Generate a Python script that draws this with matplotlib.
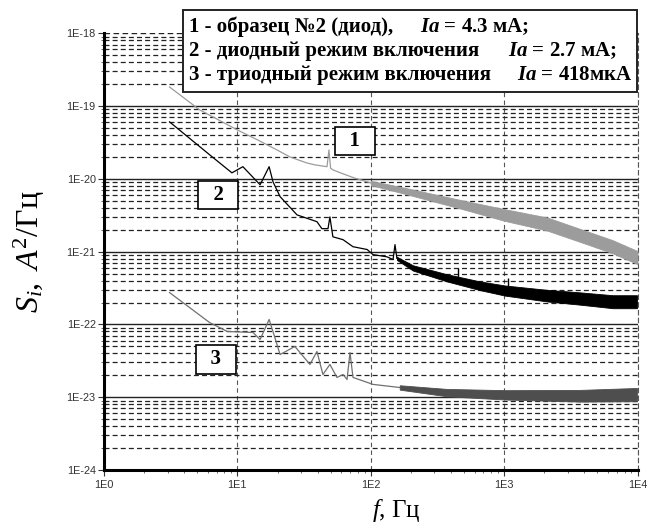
import matplotlib
matplotlib.use("Agg")
import matplotlib.pyplot as plt
from matplotlib.patches import Rectangle
from matplotlib.ticker import LogLocator, FuncFormatter, NullFormatter
import numpy as np

# ---------------- data ----------------
# curve 1: образец №2 (диод)
f1_line = [3.1, 5.2, 10, 14.3, 19.8, 24.8, 33, 38, 47, 48.6, 50, 52, 60, 74, 100]
s1_line = [1.83e-19, 8.9e-20, 4.7e-20, 3.4e-20, 2.5e-20, 2.0e-20, 1.66e-20, 1.56e-20,
           1.47e-20, 2.5e-20, 1.4e-20, 1.33e-20, 1.2e-20, 1.04e-20, 8.8e-21]
f1_band = [100, 165, 490, 1000, 2100, 4200, 6500, 10000]
s1_hi = [9.4e-21, 7.8e-21, 5.05e-21, 3.85e-21, 2.95e-21, 1.9e-21, 1.44e-21, 1.02e-21]
s1_lo = [8.2e-21, 6.5e-21, 3.83e-21, 2.66e-21, 1.95e-21, 1.26e-21, 0.95e-21, 6.75e-22]

# curve 2: диодный режим включения
f2_line = [3.1, 6.2, 9.1, 11.0, 14.8, 17.3, 18.5, 20.9, 28, 39.5, 43, 47.8, 49.4, 52,
           62, 73.5, 94, 104, 132, 147, 152, 157]
s2_line = [6.07e-20, 2.14e-20, 1.21e-20, 1.47e-20, 8.3e-21, 1.47e-20, 9.1e-21, 5.7e-21,
           3.2e-21, 2.58e-21, 2.07e-21, 2.07e-21, 3.0e-21, 1.6e-21, 1.46e-21, 1.17e-21,
           1.07e-21, 9.1e-22, 8.5e-22, 7.8e-22, 1.25e-21, 8.1e-22]
f2_band = [157, 207, 372, 659, 1013, 2094, 3700, 6540, 9900]
s2_hi = [8.5e-22, 6.5e-22, 4.9e-22, 3.9e-22, 3.43e-22, 2.99e-22, 2.76e-22, 2.52e-22, 2.52e-22]
s2_lo = [7.7e-22, 5.5e-22, 3.9e-22, 2.96e-22, 2.49e-22, 2.07e-22, 1.87e-22, 1.67e-22, 1.67e-22]
f2_spike = [451, 1070]
s2_spike_base = [4.2e-22, 2.9e-22]
s2_spike_top = [6.0e-22, 4.4e-22]

# curve 3: триодный режим включения
f3_line = [3.1, 6.2, 8.4, 13.1, 14.8, 17.3, 19.1, 20.9, 27, 35, 39.5, 43.8, 49.4, 55.8,
           62, 66.4, 69.9, 73.6, 104, 165]
s3_line = [2.74e-22, 1.06e-22, 8.0e-23, 7.75e-23, 6.2e-23, 1.17e-22, 6.6e-23, 3.86e-23,
           4.98e-23, 2.82e-23, 4.25e-23, 2.05e-23, 2.82e-23, 1.87e-23, 2.05e-23, 1.75e-23,
           4.1e-23, 1.87e-23, 1.5e-23, 1.36e-23]
f3_band = [165, 372, 1013, 3700, 9900]
s3_hi = [1.46e-23, 1.30e-23, 1.25e-23, 1.26e-23, 1.34e-23]
s3_lo = [1.27e-23, 1.03e-23, 9.3e-24, 8.7e-24, 8.8e-24]

legend_prefix = ["1 - образец №2 (диод),",
                 "2 - диодный режим включения",
                 "3 - триодный режим включения"]
legend_suffix = ["= 4.3 мА;", "= 2.7 мА;", "= 418мкА"]
curve_labels = ["1", "2", "3"]
curve_label_f = [76, 7.2, 6.9]
curve_label_s = [3.33e-20, 6.05e-21, 3.3e-23]

x_ticks = [1, 10, 100, 1000, 10000]
y_ticks = [1e-24, 1e-23, 1e-22, 1e-21, 1e-20, 1e-19, 1e-18]

# ---------------- style ----------------
plt.rcParams['mathtext.fontset'] = 'custom'
plt.rcParams['mathtext.rm'] = 'Liberation Serif'
plt.rcParams['mathtext.it'] = 'Liberation Serif:italic'
plt.rcParams['mathtext.bf'] = 'Liberation Serif:bold'
plt.rcParams['mathtext.bfit'] = 'Liberation Serif:italic:bold'

W, H = 654, 527
AX_L, AX_R, AX_T, AX_B = 104, 637.5, 33.3, 470
fig = plt.figure(figsize=(W / 100, H / 100), dpi=100)
ax = fig.add_axes([AX_L / W, 1 - AX_B / H, (AX_R - AX_L) / W, (AX_B - AX_T) / H])

ax.set_xscale('log')
ax.set_yscale('log')
ax.set_xlim(x_ticks[0], x_ticks[-1])
ax.set_ylim(y_ticks[0], y_ticks[-1])

# curves
c1, c2, c3a, c3b = '#9c9c9c', '#000000', '#707070', '#4e4e4e'
ax.plot(f1_line, s1_line, color=c1, lw=0.9, zorder=5)
ax.fill_between(f1_band, s1_lo, s1_hi, color=c1, lw=0.6, edgecolor=c1, zorder=5)
ax.plot(f2_line, s2_line, color=c2, lw=0.9, zorder=6)
ax.fill_between(f2_band, s2_lo, s2_hi, color=c2, lw=0.6, edgecolor=c2, zorder=6)
ax.vlines(f2_spike, s2_spike_base, s2_spike_top, color=c2, lw=1.0, zorder=6)
ax.plot(f3_line, s3_line, color=c3a, lw=0.9, zorder=5)
ax.fill_between(f3_band, s3_lo, s3_hi, color=c3b, lw=0.6, edgecolor=c3b, zorder=5)

# grid
dash = (0, (4, 2.5))
for v in y_ticks[1:-1]:
    ax.axhline(v, color='#222222', lw=1.0, zorder=1)
ax.axhline(y_ticks[-1], color='#222222', lw=1.0, ls=dash, zorder=1)
ax.set_xticks(x_ticks)
ax.set_yticks(y_ticks)
ax.yaxis.set_minor_locator(LogLocator(base=10, subs=np.arange(2, 10), numticks=20))
ax.xaxis.set_minor_locator(LogLocator(base=10, subs=np.arange(2, 10), numticks=20))
ax.grid(which='minor', axis='y', color='#222222', lw=0.9, ls=dash, zorder=1)
ax.grid(which='major', axis='x', color='#555555', lw=0.8, ls=(0, (4, 3)), zorder=1)
ax.set_axisbelow(True)

ax.spines['top'].set_visible(False)
ax.spines['right'].set_linestyle((0, (4, 3)))
ax.spines['right'].set_color('#555555')
ax.spines['right'].set_linewidth(0.8)
ax.spines['left'].set_linewidth(2.2)
ax.spines['bottom'].set_linewidth(2.2)

fmt = FuncFormatter(lambda v, p: "1E%d" % round(np.log10(v)))
ax.xaxis.set_major_formatter(fmt)
ax.yaxis.set_major_formatter(fmt)
ax.xaxis.set_minor_formatter(NullFormatter())
ax.yaxis.set_minor_formatter(NullFormatter())
ax.tick_params(which='major', direction='out', length=4, width=0.8, labelsize=7.8,
               colors='#333333', labelcolor='#333333')
ax.tick_params(axis='x', which='major', pad=3)
ax.tick_params(axis='y', which='major', pad=2)
ax.tick_params(which='minor', direction='out', length=2.5, width=0.6, colors='#555555')
for lab in ax.get_xticklabels() + ax.get_yticklabels():
    lab.set_family('Liberation Sans')

ax.set_xlabel(r'$f$, Гц', family='Liberation Serif', fontsize=18)
ax.xaxis.set_label_coords((396 - AX_L) / (AX_R - AX_L), -0.062)
ax.set_ylabel(r'$S_i,\ A^2/\mathrm{Гц}$', family='Liberation Serif', fontsize=23, labelpad=14)

# curve number boxes
for lab, fx, sy in zip(curve_labels, curve_label_f, curve_label_s):
    ax.text(fx, sy, "  " + lab + "  ", family='Liberation Serif', fontweight='bold',
            fontsize=15, ha='center', va='center', zorder=10,
            bbox=dict(boxstyle='square,pad=0.2', fc='white', ec='black', lw=1.2))

# legend box
fig.patches.append(Rectangle((183 / W, 1 - 92 / H), (637 - 183) / W, (92 - 10) / H,
                             transform=fig.transFigure, fc='white', ec='#222222',
                             lw=1.4, zorder=5))
ys = [27, 51, 75]
x_ia = [420, 508, 517]
for pre, suf, y, xi in zip(legend_prefix, legend_suffix, ys, x_ia):
    fig.text(189 / W, 1 - y / H, pre, family='Liberation Serif', fontweight='bold',
             fontsize=15, va='center', ha='left', zorder=6)
    fig.text(xi / W, 1 - y / H, r'$\mathbfit{Ia}$ ' + suf, family='Liberation Serif',
             fontweight='bold', fontsize=15, va='center', ha='left', zorder=6)

fig.savefig('out.png', dpi=100, facecolor='white')
